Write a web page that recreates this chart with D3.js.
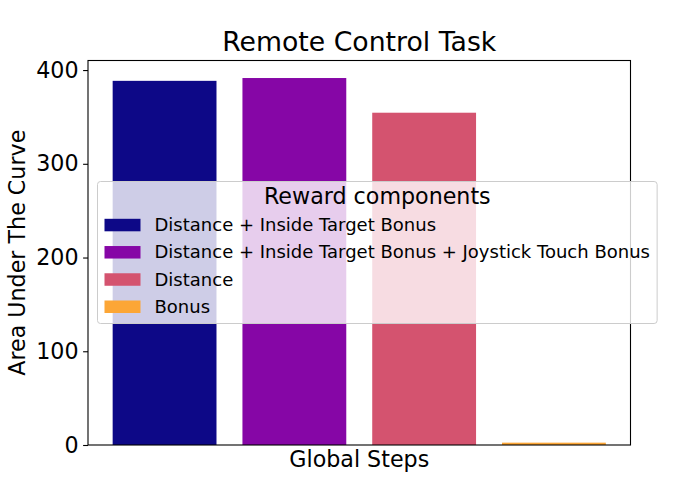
<!DOCTYPE html>
<html>
<head>
<meta charset="utf-8">
<script src="https://cdn.jsdelivr.net/npm/d3@7"></script>
<style>
  html, body { margin: 0; padding: 0; background: #fff; }
  svg { display: block; font-family: "DejaVu Sans", sans-serif; }
</style>
</head>
<body>
<svg id="chart" width="700" height="500"></svg>
<script>
const categories = [
  "Distance + Inside Target Bonus",
  "Distance + Inside Target Bonus + Joystick Touch Bonus",
  "Distance",
  "Bonus"
];
const values = [388.5, 391.5, 354.5, 2.5];
const colors = ["#0d0887", "#8606a6", "#d4536f", "#fca636"];
const yTicks = [0, 100, 200, 300, 400];
const titleText = "Remote Control Task";
const xLabel = "Global Steps";
const yLabel = "Area Under The Curve";
const legendTitle = "Reward components";

const svg = d3.select("#chart");
const plot = { left: 88, right: 630.5, top: 60.5, bottom: 445 };

const x = d3.scaleLinear().domain([-0.59, 3.59]).range([plot.left, plot.right]);
const y = d3.scaleLinear().domain([0, 410.2]).range([plot.bottom, plot.top]);
const barW = 0.8;

// bars
svg.append("g").selectAll("rect").data(values).join("rect")
  .attr("x", (d, i) => x(i - barW / 2))
  .attr("width", (d, i) => x(i + barW / 2) - x(i - barW / 2))
  .attr("y", d => y(d))
  .attr("height", d => y(0) - y(d))
  .attr("fill", (d, i) => colors[i]);

// y axis
const yAxis = d3.axisLeft(y).tickValues(yTicks).tickSize(4.9).tickPadding(4.5).tickFormat(d3.format("d"));
const gy = svg.append("g").attr("transform", `translate(${plot.left},0)`).call(yAxis);
gy.select(".domain").remove();
gy.selectAll(".tick line").attr("stroke", "#000").attr("stroke-width", 1.1);
gy.selectAll(".tick text").attr("font-size", "22.2px").attr("font-family", "DejaVu Sans").attr("fill", "#000");

// frame
svg.append("rect")
  .attr("x", plot.left).attr("y", plot.top)
  .attr("width", plot.right - plot.left).attr("height", plot.bottom - plot.top)
  .attr("fill", "none").attr("stroke", "#000").attr("stroke-width", 1.1);

// title & labels
svg.append("text").attr("x", (plot.left + plot.right) / 2).attr("y", 51)
  .attr("text-anchor", "middle").attr("font-size", "26.7px").text(titleText);
svg.append("text").attr("x", (plot.left + plot.right) / 2).attr("y", 467)
  .attr("text-anchor", "middle").attr("font-size", "22.2px").text(xLabel);
svg.append("text")
  .attr("transform", `translate(25,${(plot.top + plot.bottom) / 2}) rotate(-90)`)
  .attr("text-anchor", "middle").attr("font-size", "22.2px").text(yLabel);

// legend
const lg = svg.append("g");
const lgLeft = 97.5, lgTop = 181.5, lgBottom = 323.5;
const box = lg.append("rect")
  .attr("x", lgLeft).attr("y", lgTop).attr("rx", 3).attr("ry", 3)
  .attr("height", lgBottom - lgTop)
  .attr("fill", "rgba(255,255,255,0.8)").attr("stroke", "#cccccc").attr("stroke-width", 1);
const rowY = d3.scaleLinear().domain([0, 3]).range([225, 306.7]);
let maxRight = 0;
categories.forEach((c, i) => {
  lg.append("rect").attr("x", 104.5).attr("y", rowY(i) - 6.2).attr("width", 36).attr("height", 12.5)
    .attr("fill", colors[i]);
  const t = lg.append("text").attr("x", 154.5).attr("y", rowY(i) + 6.2)
    .attr("font-size", "18px").text(c);
  maxRight = Math.max(maxRight, 154.5 + t.node().getComputedTextLength());
});
const lgRight = maxRight + 7.2;
box.attr("width", lgRight - lgLeft);
lg.append("text").attr("x", (lgLeft + lgRight) / 2).attr("y", 204)
  .attr("text-anchor", "middle").attr("font-size", "22.2px").text(legendTitle);
</script>
</body>
</html>
